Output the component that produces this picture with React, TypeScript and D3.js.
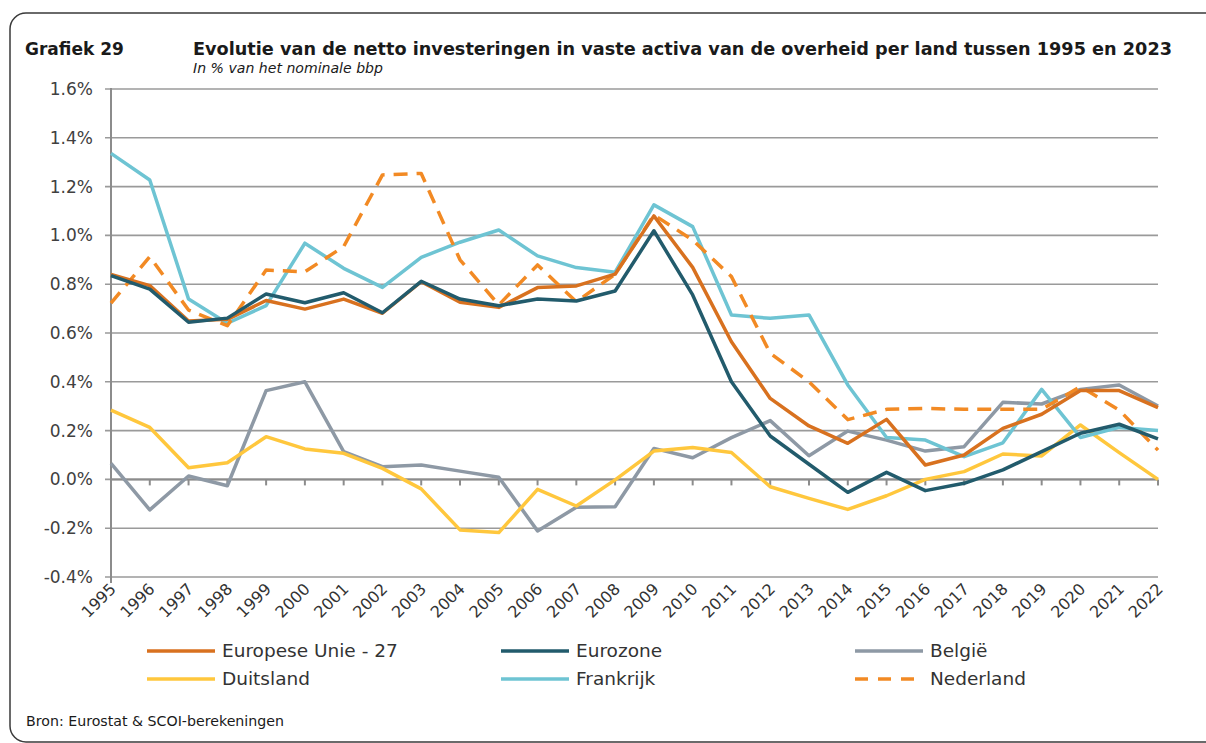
import * as d3 from "d3";
import React from "react";

const years = d3.range(1995, 2023).map(String);

const eu27 = [0.84, 0.794, 0.649, 0.656, 0.733, 0.698, 0.739, 0.681, 0.81, 0.726, 0.705, 0.786, 0.793, 0.841, 1.08, 0.869, 0.564, 0.332, 0.219, 0.148, 0.246, 0.059, 0.1, 0.209, 0.267, 0.364, 0.364, 0.294];
const eurozone = [0.835, 0.78, 0.644, 0.661, 0.76, 0.724, 0.765, 0.683, 0.812, 0.739, 0.712, 0.739, 0.731, 0.772, 1.019, 0.756, 0.4, 0.178, 0.062, -0.053, 0.029, -0.046, -0.016, 0.039, 0.114, 0.189, 0.226, 0.166];
const belgie = [0.066, -0.125, 0.014, -0.026, 0.364, 0.4, 0.114, 0.052, 0.059, 0.034, 0.009, -0.211, -0.114, -0.112, 0.127, 0.089, 0.171, 0.241, 0.097, 0.198, 0.161, 0.116, 0.134, 0.316, 0.309, 0.369, 0.387, 0.301];
const duitsland = [0.284, 0.213, 0.048, 0.068, 0.175, 0.125, 0.107, 0.045, -0.039, -0.207, -0.218, -0.041, -0.109, -0.002, 0.116, 0.131, 0.11, -0.03, -0.078, -0.123, -0.067, 0, 0.032, 0.104, 0.096, 0.223, 0.11, 0];
const frankrijk = [1.336, 1.227, 0.739, 0.64, 0.712, 0.968, 0.865, 0.787, 0.91, 0.972, 1.022, 0.916, 0.868, 0.849, 1.125, 1.036, 0.674, 0.66, 0.674, 0.387, 0.172, 0.161, 0.093, 0.15, 0.369, 0.172, 0.213, 0.2];
const nederland = [0.722, 0.913, 0.694, 0.63, 0.858, 0.851, 0.954, 1.248, 1.254, 0.9, 0.715, 0.879, 0.728, 0.841, 1.084, 0.981, 0.831, 0.517, 0.4, 0.245, 0.287, 0.291, 0.287, 0.287, 0.287, 0.38, 0.284, 0.12];

const yTicks = [-0.4, -0.2, 0, 0.2, 0.4, 0.6, 0.8, 1.0, 1.2, 1.4, 1.6];

// drawing order: back to front
const series = [
  { name: "België", values: belgie, color: "#8E99A5", dash: "" },
  { name: "Duitsland", values: duitsland, color: "#FFC73D", dash: "" },
  { name: "Frankrijk", values: frankrijk, color: "#6EC4D3", dash: "" },
  { name: "Nederland", values: nederland, color: "#F28A24", dash: "14 9" },
  { name: "Europese Unie - 27", values: eu27, color: "#D8711F", dash: "" },
  { name: "Eurozone", values: eurozone, color: "#225B6C", dash: "" },
];

const legend = [
  { name: "Europese Unie - 27", col: 0, row: 0 },
  { name: "Eurozone", col: 1, row: 0 },
  { name: "België", col: 2, row: 0 },
  { name: "Duitsland", col: 0, row: 1 },
  { name: "Frankrijk", col: 1, row: 1 },
  { name: "Nederland", col: 2, row: 1 },
];

const font = "'DejaVu Sans', sans-serif";

const fmt = (t: number) => d3.format(".1f")(t).replace("\u2212", "-") + "%";

const App: React.FC = () => {
  const x = d3.scalePoint<string>().domain(years).range([111, 1158]);
  const y = d3.scaleLinear().domain([-0.4, 1.6]).range([577, 89]);
  const line = d3
    .line<number>()
    .x((_, i) => x(years[i]) as number)
    .y((d) => y(d));

  const legendX = [147, 501, 855];
  const legendY = [651, 679];

  return (
    <svg
      width={1206}
      height={743}
      style={{ position: "absolute", left: 0, top: 0, background: "#fff" }}
      fontFamily={font}
    >
      <rect x={10} y={13} width={1230} height={729} rx={16} fill="#fff" stroke="#3a3a3a" strokeWidth={1.5} />

      <text x={25} y={55} fontSize={17} fontWeight="bold" fill="#1a1a1a">
        Grafiek 29
      </text>
      <text x={193} y={55} fontSize={17} fontWeight="bold" fill="#1a1a1a" textLength={979} lengthAdjust="spacingAndGlyphs">
        Evolutie van de netto investeringen in vaste activa van de overheid per land tussen 1995 en 2023
      </text>
      <text x={193} y={73} fontSize={13.5} fontStyle="italic" fill="#1a1a1a" textLength={190} lengthAdjust="spacingAndGlyphs">
        In % van het nominale bbp
      </text>

      {/* gridlines */}
      {yTicks.map((t) => (
        <g key={t}>
          <line x1={105} x2={1158} y1={y(t)} y2={y(t)} stroke="#9a9a9a" strokeWidth={1.6} />
          <text x={93} y={y(t)} dy="0.35em" textAnchor="end" fontSize={17} fill="#404040">
            {fmt(t)}
          </text>
        </g>
      ))}
      <line x1={111} x2={111} y1={88} y2={578} stroke="#8c8c8c" strokeWidth={2} />

      {/* x axis at zero */}
      <line x1={111} x2={1158} y1={y(0)} y2={y(0)} stroke="#8c8c8c" strokeWidth={2} />
      {years.map((yr) => (
        <line key={yr} x1={x(yr)} x2={x(yr)} y1={y(0)} y2={y(0) + 6} stroke="#8c8c8c" strokeWidth={2} />
      ))}
      <line x1={111} x2={111} y1={577} y2={583} stroke="#8c8c8c" strokeWidth={2} />
      {years.map((yr) => (
        <text
          key={yr}
          transform={`translate(${(x(yr) as number) + 6},${590}) rotate(-45)`}
          textAnchor="end"
          fontSize={16}
          fill="#333"
        >
          {yr}
        </text>
      ))}

      {series.map((s) => (
        <path
          key={s.name}
          d={line(s.values) || ""}
          fill="none"
          stroke={s.color}
          strokeWidth={3.5}
          strokeDasharray={s.dash || undefined}
          strokeLinejoin="round"
        />
      ))}

      {legend.map((l) => {
        const s = series.find((d) => d.name === l.name)!;
        const lx = legendX[l.col];
        const ly = legendY[l.row];
        return (
          <g key={l.name}>
            <line
              x1={lx}
              x2={lx + 68}
              y1={ly}
              y2={ly}
              stroke={s.color}
              strokeWidth={3.5}
              strokeDasharray={s.dash ? "13 10" : undefined}
            />
            <text x={lx + 75} y={ly} dy="0.35em" fontSize={18.5} fill="#333">
              {l.name}
            </text>
          </g>
        );
      })}

      <text x={26} y={726} fontSize={14} fill="#1a1a1a" textLength={258} lengthAdjust="spacingAndGlyphs">
        Bron: Eurostat &amp; SCOI-berekeningen
      </text>
    </svg>
  );
};

export default App;
